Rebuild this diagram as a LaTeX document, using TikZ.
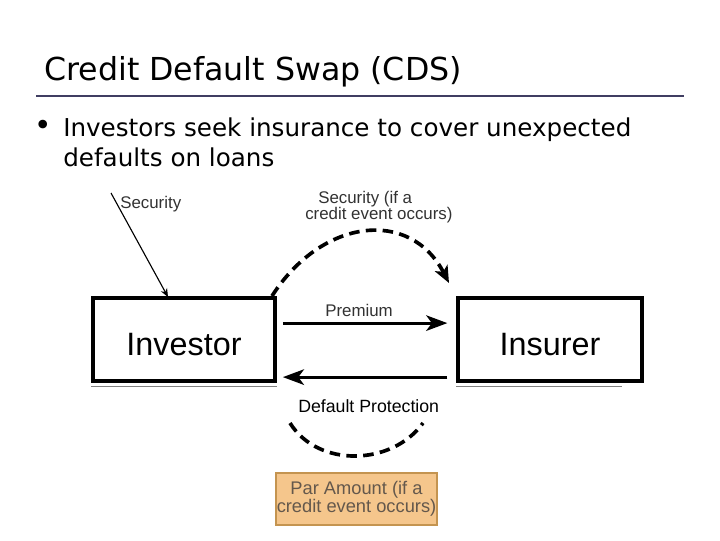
\documentclass[tikz,border=0pt]{standalone}
\usepackage{fontspec}
\setmainfont{Liberation Sans}
\newfontfamily\slidefont{DejaVu Sans}
\usetikzlibrary{arrows.meta,positioning}
\definecolor{rulenavy}{RGB}{64,62,98}
\definecolor{paramber}{RGB}{245,198,140}
\definecolor{parrim}{RGB}{196,148,80}
\definecolor{partext}{RGB}{100,88,76}
\definecolor{labelgray}{RGB}{50,50,50}
\tikzset{
  partybox/.style={draw, line width=2.6pt, minimum height=2.075cm,
                   font=\fontsize{23}{26}\selectfont, inner sep=0pt,
                   text height=23pt, text depth=0pt},
  flowarr/.style={-{Stealth[length=15pt,width=11pt,inset=4pt]}, line width=2.2pt},
  dasharc/.style={line width=2.6pt, dash pattern=on 7.5pt off 4.5pt},
  flowlabel/.style={font=\fontsize{12}{12}\selectfont, text=labelgray, inner sep=0pt},
  slidetext/.style={font=\slidefont\fontsize{17.5}{21}\selectfont, inner sep=0pt}
}

\begin{document}
\begin{tikzpicture}[x=0.025cm, y=-0.025cm]
  \useasboundingbox (0,0) rectangle (720,540);

  % heading
  \node[font=\slidefont\fontsize{22.5}{26}\selectfont, inner sep=0pt, anchor=base west]
    (title) at (44,80) {Credit Default Swap (CDS)};
  \draw[rulenavy, line width=1.8pt] (36,96) -- (684,96);
  \node[slidetext, anchor=base west, font=\slidefont\fontsize{21}{21}\selectfont] (dot) at (34,135) {\textbullet};
  \node[slidetext, anchor=base west] (line1) at (63,136) {Investors seek insurance to cover unexpected};
  \node[slidetext, anchor=base west] (line2) at (63,166) {defaults on loans};

  % parties
  \node[partybox, minimum width=4.55cm] (inv) at (184,339.5) {Investor};
  \node[partybox, minimum width=4.6cm] (ins) at (550,339.5) {Insurer};
  \draw[line width=0.6pt] ([yshift=-2.6pt]inv.north west) -- ([yshift=-2.6pt]inv.north east);
  \draw[line width=0.6pt] ([yshift=-2.6pt]ins.north west) -- ([yshift=-2.6pt,xshift=-0.55cm]ins.north east);
  \draw[gray, line width=1.4pt] ([yshift=-2.6pt]inv.south west) -- ([yshift=-2.6pt]inv.south east);
  \draw[gray, line width=1.4pt] ([yshift=-2.6pt]ins.south west) -- ([yshift=-2.6pt,xshift=-0.55cm]ins.south east);

  % security handed to the investor
  \coordinate (secfrom) at (111,193);
  \coordinate (secto) at (168,297);
  \node[flowlabel, anchor=base west] (sec) at (120,208) {Security};
  \draw[-{Stealth[length=6pt,width=5pt]}, line width=0.8pt] (secfrom) -- (secto);

  % premium and protection
  \node[flowlabel, anchor=base west] (prem) at (325,316) {Premium};
  \draw[flowarr] ([xshift=0.15cm,yshift=0.41cm]inv.east) -- ([xshift=-0.22cm,yshift=0.41cm]ins.west);
  \draw[flowarr] ([xshift=-0.22cm,yshift=-0.94cm]ins.west) -- ([xshift=0.15cm,yshift=-0.94cm]inv.east);
  \node[flowlabel, anchor=base west, font=\fontsize{12.6}{12}\selectfont, text=black]
    (prot) at (298,412) {Default Protection};

  % security if a credit event occurs
  \node[flowlabel, anchor=base west] (cev1) at (318,203) {Security (if a};
  \node[flowlabel, anchor=base west] (cev2) at (305,219) {credit event occurs)};
  \coordinate (arcfrom) at (272,296);
  \coordinate (arcto) at (449,283);
  \draw[dasharc, -{Stealth[length=12pt,width=10pt,inset=3pt]}]
    (arcfrom) .. controls (322,218) and (410,208) .. (arcto);

  % par amount
  \coordinate (lowfrom) at (290,423);
  \coordinate (lowto) at (423,423);
  \draw[dasharc] (lowfrom) .. controls (318,468) and (392,466) .. (lowto);
  \node[draw=parrim, fill=paramber, line width=1pt, minimum width=4.025cm,
        minimum height=1.3cm, inner sep=0pt, align=center, text=partext,
        font=\fontsize{13}{12}\selectfont] (par) at (356.5,499)
    {Par Amount (if a\\credit event occurs)};
\end{tikzpicture}
\end{document}
